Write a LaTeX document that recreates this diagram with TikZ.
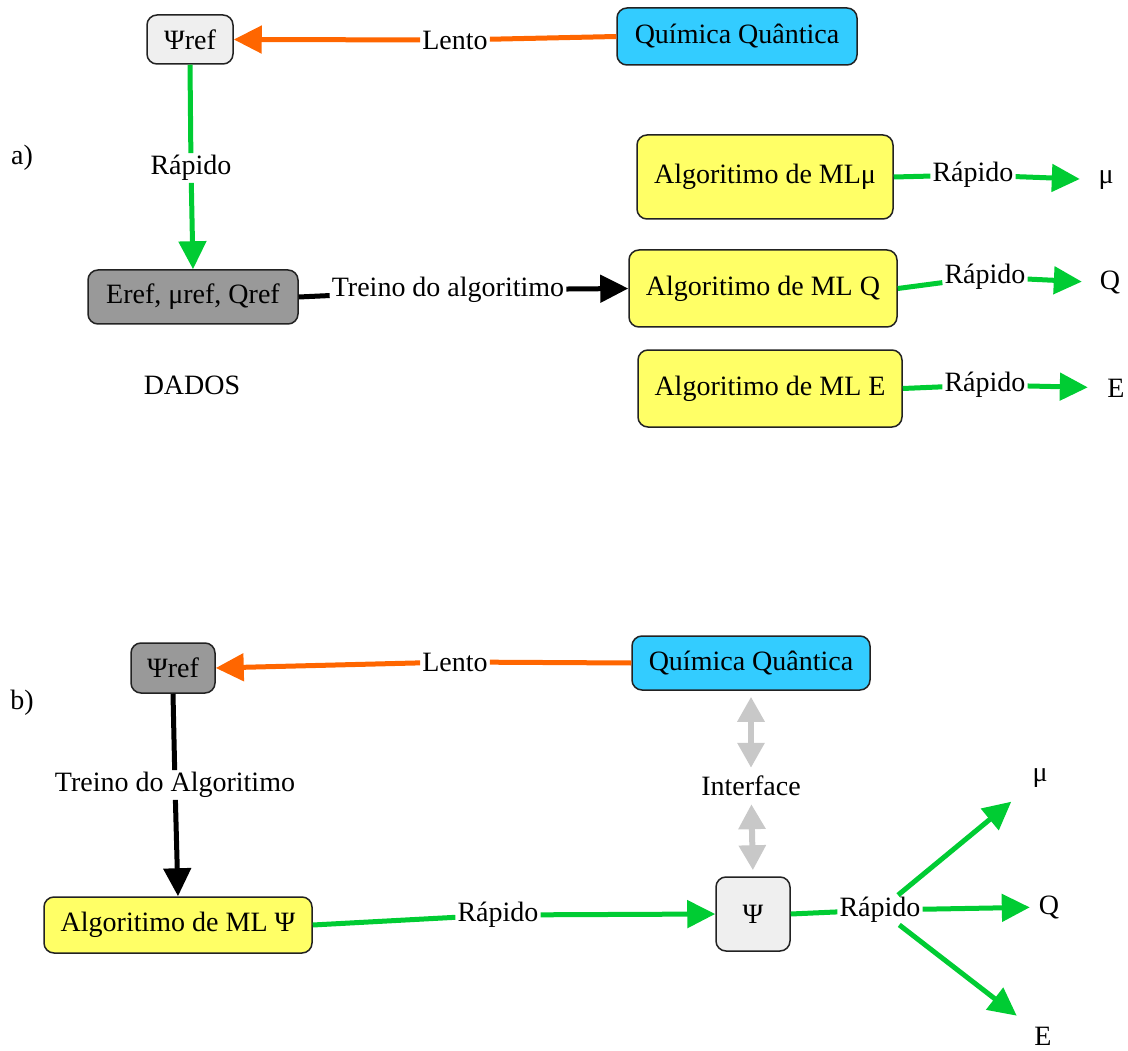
\documentclass[tikz,border=0pt]{standalone}
\usepackage{fontspec}
\setmainfont{Liberation Serif}
\usetikzlibrary{arrows.meta}
\definecolor{lightbox}{HTML}{EFEFEF}
\definecolor{darkbox}{HTML}{999999}
\definecolor{cyanbox}{HTML}{33CCFF}
\definecolor{yellowbox}{HTML}{FFFF66}
\definecolor{mygreen}{HTML}{00CC33}
\definecolor{myorange}{HTML}{FF6600}
\definecolor{myarrowgray}{HTML}{C8C8C8}
\definecolor{myborder}{HTML}{222222}
\begin{document}
\begin{tikzpicture}[x=1pt,y=-1pt,
  every node/.style={font=\fontsize{28}{32}\selectfont},
  box/.style={draw=myborder, line width=1.5pt, rounded corners=10pt, inner sep=0pt, align=center},
  lbl/.style={inner sep=2pt},
  outnode/.style={circle, inner sep=0pt},
  bigtip/.style={-{Triangle[length=28pt,width=27pt]}},
  gline/.style={draw=mygreen, line width=5pt},
  oline/.style={draw=myorange, line width=5pt},
  kline/.style={draw=black, line width=5pt},
  grayarrow/.style={draw=myarrowgray, line width=6pt, {Triangle[length=25pt,width=26pt]}-{Triangle[length=25pt,width=26pt]}, shorten <=6pt, shorten >=6pt}
]
\useasboundingbox (0,0) rectangle (1128,1051);

% ---------- part a ----------
\node at (22,158) (la) {a)};
\node[box, fill=lightbox, minimum width=86pt, minimum height=49pt] (psiA) at (190,39.5) {Ψref};
\node[box, fill=cyanbox, minimum width=240pt, minimum height=57pt] (qqA) at (737,36.5) {Química Quântica};
\node[lbl] (lentoA) at (455,40) {Lento};
\draw[oline] (qqA.west) -- (lentoA);
\draw[oline, bigtip] (lentoA) -- (psiA.east);

\node[lbl] (rapV) at (191,168) {Rápido};
\node[box, fill=darkbox, minimum width=210pt, minimum height=54pt] (eref) at (193,297) {Eref, μref, Qref};
\draw[gline] (psiA.south) -- (rapV);
\draw[gline, bigtip] (rapV) -- (eref.north);

\node (dados) at (192,385) {DADOS};

\node[box, fill=yellowbox, minimum width=256pt, minimum height=84pt] (mlmu) at (765,177) {Algoritimo de MLμ};
\node[box, fill=yellowbox, minimum width=268pt, minimum height=77pt] (mlq) at (763,288.5) {Algoritimo de ML Q};
\node[box, fill=yellowbox, minimum width=264pt, minimum height=77pt] (mle) at (770,388.5) {Algoritimo de ML E};

\node[lbl] (treinoA) at (448,290) {Treino do algoritimo};
\draw[kline] (eref.east) -- (treinoA);
\draw[kline, bigtip] (treinoA) -- (mlq.west);

\node[lbl] (rmu) at (973,175) {Rápido};
\node[lbl] (rq) at (985,277) {Rápido};
\node[lbl] (re) at (985,385) {Rápido};
\node[outnode, minimum size=52pt] (muA) at (1106,180) {μ};
\node[outnode, minimum size=56pt] (qA) at (1110,283) {Q};
\node[outnode, minimum size=56pt] (eA) at (1116,388) {E};
\draw[gline] (mlmu.east) -- (rmu);
\draw[gline, bigtip] (rmu) -- (muA);
\draw[gline] (mlq.east) -- (rq);
\draw[gline, bigtip] (rq) -- (qA);
\draw[gline] (mle.east) -- (re);
\draw[gline, bigtip] (re) -- (eA);

% ---------- part b ----------
\node at (22,703) (lb) {b)};
\node[box, fill=darkbox, minimum width=84pt, minimum height=50pt] (psiB) at (173,668) {Ψref};
\node[box, fill=cyanbox, minimum width=238pt, minimum height=54pt] (qqB) at (751,663) {Química Quântica};
\node[lbl] (lentoB) at (455,662) {Lento};
\draw[oline] (qqB.west) -- (lentoB);
\draw[oline, bigtip] (lentoB) -- (psiB.east);

\node[lbl] (treinoB) at (175,785) {Treino do Algoritimo};
\node[box, fill=yellowbox, minimum width=268pt, minimum height=56pt] (mlpsi) at (178,925) {Algoritimo de ML Ψ};
\draw[kline] (psiB.south) -- (treinoB);
\draw[kline, bigtip] (treinoB) -- (mlpsi.north);

\node[box, fill=lightbox, minimum width=74pt, minimum height=74pt] (psi) at (753,914) {Ψ};
\node[lbl] (rB1) at (498,915) {Rápido};
\draw[gline] (mlpsi.east) -- (rB1);
\draw[gline, bigtip] (rB1) -- (psi.west);

\node[lbl] (iface) at (751,786) {Interface};
\draw[grayarrow] (qqB.south) -- (iface);
\draw[grayarrow] (iface) -- (psi.north);

\node[lbl] (rB2) at (880,910) {Rápido};
\draw[gline] (psi.east) -- (rB2);
\node[outnode, minimum size=74pt] (muB) at (1040,778) {μ};
\node[outnode, minimum size=38pt] (qB) at (1049,907) {Q};
\node[outnode, minimum size=66pt] (eB) at (1043,1036) {E};
\draw[gline, bigtip] (rB2) -- (muB);
\draw[gline, bigtip] (rB2) -- (qB);
\draw[gline, bigtip] (rB2) -- (eB);
\end{tikzpicture}
\end{document}
